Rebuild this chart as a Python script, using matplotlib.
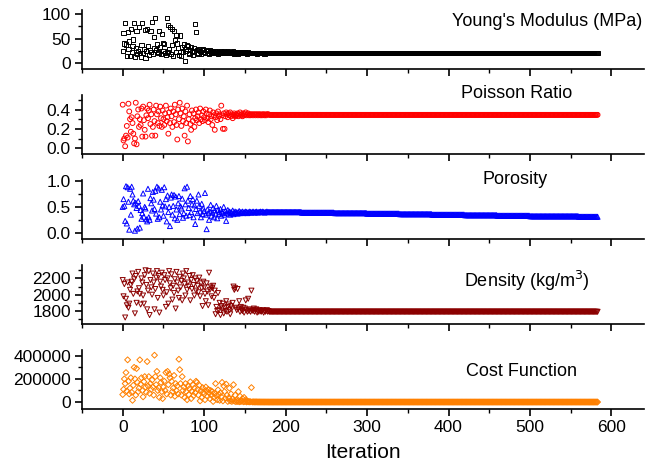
import numpy as np
import matplotlib
matplotlib.use("Agg")
import matplotlib.pyplot as plt
from matplotlib.ticker import MultipleLocator

plt.rcParams['font.family'] = ['Liberation Sans', 'DejaVu Sans']

# exploration phase, iterations 0..179
youngs_early = [
    24, 62, 40, 81, 38, 14, 64, 28, 44, 15,
    70, 22, 35, 48, 82, 13, 30, 66, 18, 25,
    74, 21, 12, 36, 82, 20, 28, 67, 10, 24,
    70, 34, 16, 26, 65, 22, 84, 19, 53, 30,
    92, 27, 38, 22, 20, 66, 32, 18, 59, 41,
    25, 39, 20, 17, 91, 22, 78, 28, 74, 19,
    70, 36, 14, 66, 47, 22, 57, 40, 30, 16,
    56, 23, 14, 33, 22, 38, 5, 28, 25, 36,
    34, 20, 18, 26, 32, 22, 17, 30, 25, 80,
    63, 27, 21, 19, 28, 24, 18, 26, 22, 29,
    23, 20, 27, 24, 21, 25, 19, 26, 23, 21,
    24, 22, 20, 25, 23, 21, 24, 19, 23, 22,
    21, 24, 20, 22, 25, 21, 23, 20, 22, 24,
    21, 23, 20, 22, 21, 24, 20, 18, 22, 21,
    20, 23, 19, 21, 22, 20, 21, 23, 20, 21,
    22, 20, 21, 19, 22, 20, 21, 20, 21, 20,
    21, 20, 20, 21, 20, 19, 20, 21, 20, 20,
    20, 21, 20, 20, 19, 20, 20, 21, 20, 20,
]
poisson_early = [
    0.45, 0.08, 0.10, 0.02, 0.13, 0.23, 0.11, 0.46, 0.38, 0.30,
    0.17, 0.32, 0.26, 0.15, 0.05, 0.10, 0.47, 0.04, 0.33, 0.40,
    0.22, 0.30, 0.24, 0.41, 0.12, 0.43, 0.29, 0.19, 0.12, 0.34,
    0.41, 0.31, 0.39, 0.45, 0.25, 0.35, 0.13, 0.22, 0.40, 0.28,
    0.13, 0.44, 0.35, 0.26, 0.38, 0.23, 0.43, 0.31, 0.22, 0.39,
    0.30, 0.24, 0.36, 0.44, 0.28, 0.32, 0.15, 0.37, 0.26, 0.41,
    0.33, 0.22, 0.38, 0.27, 0.45, 0.35, 0.24, 0.09, 0.40, 0.30,
    0.47, 0.36, 0.23, 0.41, 0.28, 0.33, 0.13, 0.38, 0.26, 0.44,
    0.07, 0.30, 0.35, 0.25, 0.19, 0.39, 0.28, 0.36, 0.22, 0.31,
    0.40, 0.29, 0.33, 0.37, 0.26, 0.41, 0.30, 0.34, 0.28, 0.38,
    0.32, 0.29, 0.40, 0.36, 0.31, 0.27, 0.35, 0.39, 0.30, 0.33,
    0.24, 0.37, 0.34, 0.19, 0.32, 0.36, 0.29, 0.38, 0.33, 0.35,
    0.30, 0.44, 0.34, 0.20, 0.36, 0.20, 0.33, 0.37, 0.35, 0.32,
    0.36, 0.34, 0.37, 0.33, 0.35, 0.31, 0.34, 0.36, 0.33, 0.35,
    0.34, 0.36, 0.33, 0.35, 0.37, 0.34, 0.35, 0.33, 0.36, 0.34,
    0.35, 0.37, 0.34, 0.35, 0.36, 0.34, 0.35, 0.34, 0.35, 0.35,
    0.34, 0.35, 0.35, 0.34, 0.35, 0.35, 0.34, 0.35, 0.35, 0.34,
    0.35, 0.34, 0.35, 0.35, 0.34, 0.35, 0.34, 0.35, 0.35, 0.35,
]
porosity_early = [
    0.50, 0.65, 0.52, 0.23, 0.90, 0.18, 0.88, 0.60, 0.06, 0.85,
    0.35, 0.89, 0.74, 0.62, 0.55, 0.04, 0.58, 0.48, 0.08, 0.61,
    0.52, 0.10, 0.44, 0.27, 0.38, 0.76, 0.31, 0.50, 0.47, 0.26,
    0.22, 0.85, 0.30, 0.25, 0.67, 0.57, 0.43, 0.79, 0.64, 0.46,
    0.81, 0.37, 0.89, 0.27, 0.86, 0.30, 0.60, 0.45, 0.83, 0.53,
    0.33, 0.88, 0.51, 0.65, 0.22, 0.72, 0.40, 0.50, 0.13, 0.68,
    0.74, 0.35, 0.52, 0.73, 0.28, 0.70, 0.45, 0.25, 0.57, 0.71,
    0.36, 0.51, 0.47, 0.66, 0.29, 0.38, 0.86, 0.55, 0.33, 0.89,
    0.62, 0.48, 0.34, 0.71, 0.40, 0.55, 0.65, 0.30, 0.53, 0.17,
    0.46, 0.62, 0.38, 0.74, 0.52, 0.41, 0.30, 0.56, 0.36, 0.47,
    0.42, 0.77, 0.35, 0.07, 0.45, 0.38, 0.25, 0.41, 0.54, 0.33,
    0.39, 0.48, 0.30, 0.43, 0.37, 0.52, 0.28, 0.44, 0.36, 0.40,
    0.46, 0.33, 0.41, 0.38, 0.50, 0.35, 0.42, 0.23, 0.39, 0.44,
    0.37, 0.41, 0.35, 0.40, 0.38, 0.43, 0.36, 0.39, 0.41, 0.38,
    0.40, 0.37, 0.39, 0.42, 0.38, 0.40, 0.39, 0.41, 0.38, 0.40,
    0.39, 0.41, 0.40, 0.38, 0.40, 0.39, 0.41, 0.40, 0.39, 0.40,
    0.41, 0.40, 0.39, 0.40, 0.41, 0.40, 0.39, 0.40, 0.40, 0.41,
    0.40, 0.40, 0.41, 0.40, 0.39, 0.40, 0.40, 0.41, 0.40, 0.40,
]
density_early = [
    2180, 1980, 2130, 1720, 1950, 1870, 2150, 1840, 1890, 2060,
    2120, 2160, 2260, 2010, 2190, 1770, 2230, 1900, 2040, 2280,
    2080, 2010, 1880, 2200, 2150, 1990, 1890, 2240, 2300, 2120,
    1820, 2050, 2290, 1750, 2180, 2090, 2000, 2260, 2150, 1820,
    2070, 2210, 2290, 1960, 2230, 1780, 2160, 2100, 2270, 2060,
    1990, 2240, 2180, 1850, 2030, 2200, 1890, 2290, 2140, 2080,
    2250, 1940, 2110, 2020, 2190, 1830, 2280, 2150, 2050, 1960,
    2220, 2090, 2170, 1930, 2260, 2200, 2130, 1990, 2290, 2060,
    2150, 2100, 2230, 1930, 2180, 2070, 2240, 2120, 1990, 2200,
    2050, 2170, 2110, 2030, 2210, 1980, 2140, 2080, 1860, 2160,
    2090, 2010, 1920, 2140, 2040, 1870, 2270, 2060, 2100, 1980,
    2080, 2110, 1960, 2050, 1760, 1850, 1800, 2020, 1810, 1900,
    1750, 1860, 1830, 1890, 1770, 1840, 1800, 1920, 1790, 1850,
    1880, 1810, 1760, 1860, 1830, 1900, 2100, 2060, 2080, 1840,
    1810, 2070, 1830, 1920, 1790, 1850, 1810, 1800, 1840, 1780,
    1830, 1930, 1810, 1790, 1950, 1800, 1820, 1790, 2050, 1810,
    1800, 1830, 1790, 1810, 1820, 1780, 1800, 1790, 1810, 1800,
    1790, 1800, 1810, 1780, 1800, 1790, 1800, 1810, 1790, 1800,
]
cost_early = [
    65000, 110000, 200000, 160000, 255000, 95000, 365000, 180000, 70000, 120000,
    210000, 85000, 15000, 145000, 300000, 200000, 60000, 290000, 170000, 90000,
    120000, 365000, 155000, 210000, 100000, 45000, 175000, 220000, 130000, 85000,
    350000, 140000, 220000, 75000, 160000, 110000, 190000, 130000, 60000, 405000,
    220000, 150000, 265000, 100000, 125000, 40000, 210000, 170000, 90000, 30000,
    130000, 180000, 100000, 255000, 70000, 265000, 150000, 240000, 210000, 60000,
    180000, 90000, 120000, 230000, 50000, 160000, 100000, 140000, 70000, 370000,
    280000, 160000, 60000, 220000, 100000, 130000, 40000, 160000, 90000, 20000,
    140000, 65000, 115000, 175000, 30000, 95000, 150000, 55000, 120000, 80000,
    180000, 170000, 110000, 60000, 145000, 10000, 100000, 40000, 125000, 85000,
    70000, 20000, 130000, 95000, 50000, 110000, 80000, 30000, 100000, 60000,
    90000, 5000, 40000, 75000, 160000, 55000, 20000, 105000, 65000, 15000,
    80000, 45000, 170000, 10000, 140000, 90000, 30000, 155000, 60000, 5000,
    35000, 120000, 10000, 70000, 5000, 25000, 150000, 8000, 60000, 3000,
    15000, 5000, 90000, 2000, 50000, 4000, 10000, 30000, 2000, 40000,
    3000, 20000, 1000, 8000, 2000, 5000, 1000, 3000, 125000, 1000,
    1000, 2000, 500, 1000, 1500, 500, 1000, 500, 800, 500,
    500, 600, 400, 500, 300, 500, 400, 300, 400, 300,
]

# converged phase, level read every 20 iterations from 180 to 583
youngs_late = [20, 20, 20, 20, 20, 20, 20, 20, 20, 20, 20,
               20, 20, 20, 20, 20, 20, 20, 20, 20, 20]
poisson_late = [0.345, 0.345, 0.345, 0.345, 0.345, 0.345, 0.345,
                0.345, 0.345, 0.345, 0.345, 0.345, 0.345, 0.345,
                0.345, 0.345, 0.345, 0.345, 0.345, 0.345, 0.345]
porosity_late = [0.40, 0.40, 0.39, 0.39, 0.38, 0.38, 0.37, 0.37, 0.36, 0.36,
                 0.35, 0.35, 0.34, 0.34, 0.33, 0.33, 0.32, 0.32, 0.32, 0.31, 0.31]
density_late = [1790, 1790, 1790, 1790, 1790, 1790, 1790, 1790, 1790, 1790, 1790,
                1790, 1790, 1790, 1790, 1790, 1790, 1790, 1790, 1790, 1790]
cost_late = [200, 200, 200, 200, 200, 200, 200, 200, 200, 200, 200,
             200, 200, 200, 200, 200, 200, 200, 200, 200, 200]

last_iter = 583

labels = ["Young's Modulus (MPa)", "Poisson Ratio", "Porosity",
          "Density (kg/m$^3$)", "Cost Function"]


def series(early, late):
    n_late = last_iter + 1 - len(early)
    return np.concatenate([early, np.repeat(late, 20)[:n_late]])


data = [series(youngs_early, youngs_late),
        series(poisson_early, poisson_late),
        series(porosity_early, porosity_late),
        series(density_early, density_late),
        series(cost_early, cost_late)]
iters = np.arange(last_iter + 1)

colors = ["black", "#ff0000", "#0000ff", "#8b0000", "#ff8000"]
markers = ["s", "o", "^", "v", "D"]
sizes = [9, 12, 13, 13, 9]
ylims = [(-12, 108), (-0.06, 0.55), (-0.12, 1.02), (1640, 2365), (-60000, 450000)]
major = [50, 0.2, 0.5, 200, 200000]
# label centre in pixels (x, y from top)
label_pos = [(642, 22, "right"), (517, 93, "center"), (515, 180, "center"),
             (527, 281, "center"), (521, 372, "center")]

W, H = 646, 471
fig = plt.figure(figsize=(W / 100, H / 100), dpi=100)

for i in range(5):
    top = 10 + 85 * i
    bottom = 69 + 85 * i
    ax = fig.add_axes([82 / W, 1 - bottom / H, 562 / W, (bottom - top) / H])
    ax.scatter(iters, data[i], s=sizes[i], marker=markers[i], facecolors="none",
               edgecolors=colors[i], linewidths=0.7, clip_on=False)
    ax.set_xlim(-50, 640)
    ax.set_ylim(*ylims[i])
    ax.xaxis.set_major_locator(MultipleLocator(100))
    ax.xaxis.set_minor_locator(MultipleLocator(50))
    ax.yaxis.set_major_locator(MultipleLocator(major[i]))
    ax.yaxis.set_minor_locator(MultipleLocator(major[i] / 2))
    for s in ["top", "right"]:
        ax.spines[s].set_visible(False)
    for s in ["left", "bottom"]:
        ax.spines[s].set_linewidth(1.2)
    ax.tick_params(which="major", length=5, width=1.2, labelsize=12.5, pad=3)
    ax.tick_params(which="minor", length=3, width=1.0)
    if i < 4:
        ax.tick_params(axis="x", labelbottom=False)
    else:
        ax.set_xlabel("Iteration", fontsize=15, labelpad=6)
    if i in (1, 2):
        ax.yaxis.set_major_formatter(plt.FormatStrFormatter("%.1f"))
    lx, ly, ha = label_pos[i]
    fig.text(lx / W, 1 - ly / H, labels[i], fontsize=13, ha=ha, va="center")

fig.savefig("out.png", dpi=100)
